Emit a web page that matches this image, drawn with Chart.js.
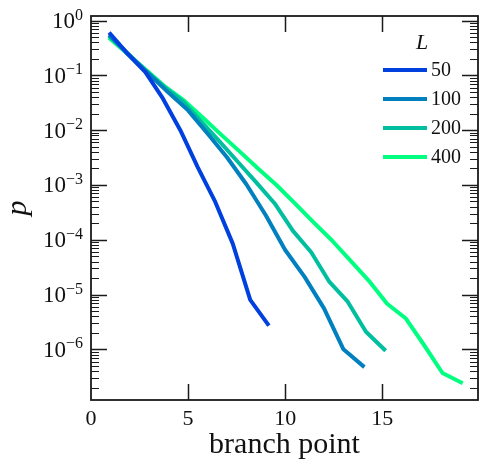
<!DOCTYPE html>
<html>
<head>
<meta charset="utf-8">
<script src="https://cdn.jsdelivr.net/npm/chart.js@4.4.1/dist/chart.umd.min.js"></script>
<style>
    html, body { margin: 0; padding: 0; background: #ffffff; }
    #chartWrap { width: 479px; height: 460px; }
</style>
</head>
<body>
<div id="chartWrap"><canvas id="branchChart" width="479" height="460"></canvas></div>
<script>
// Series data
const seriesLabels = ['50', '100', '200', '400'];
const seriesColors = ['#0040df', '#0080bf', '#00bf9f', '#00ff80'];

const x50 = [1, 1.9, 2.8, 3.7, 4.6, 5.5, 6.4, 7.3, 8.2, 9.1];
const p50 = [0.57, 0.245, 0.115, 0.038, 0.010, 0.0021, 4.9e-4, 8.5e-5, 8e-6, 2.9e-6];

const x100 = [1, 2, 3, 4, 5, 6, 7, 8, 9, 10, 11, 12, 13, 14];
const p100 = [0.52, 0.23, 0.105, 0.048, 0.023, 8.7e-3, 3.2e-3, 1.03e-3, 2.8e-4, 6.5e-5, 2.1e-5, 5.6e-6, 1.0e-6, 5e-7];

const x200 = [1, 1.94, 2.88, 3.82, 4.76, 5.7, 6.64, 7.58, 8.52, 9.46, 10.4, 11.34, 12.28, 13.22, 14.16, 15.1];
const p200 = [0.5, 0.24, 0.115, 0.06, 0.033, 0.014, 6.1e-3, 2.6e-3, 1.1e-3, 4.6e-4, 1.45e-4, 5.9e-5, 1.7e-5, 7.4e-6, 2.1e-6, 1.0e-6];

const x400 = [1, 1.95, 2.9, 3.85, 4.8, 5.75, 6.7, 7.65, 8.6, 9.55, 10.5, 11.45, 12.4, 13.35, 14.3, 15.25, 16.2, 17.15, 18.1, 19.05];
const p400 = [0.46, 0.236, 0.12, 0.061, 0.0345, 0.017, 8.3e-3, 4.1e-3, 2.0e-3, 1.0e-3, 4.6e-4, 2.1e-4, 9.8e-5, 4.2e-5, 1.8e-5, 6.8e-6, 3.7e-6, 1.2e-6, 3.7e-7, 2.5e-7];

// Axis ticks
const xTicks = [0, 5, 10, 15];
const yMajorExps = [-7, -6, -5, -4, -3, -2, -1, 0];
const xRange = [0, 19.93];
const yRange = [1.19e-7, 1.213];

const TEXT_COLOR = '#111111';
const SERIF = '"Liberation Serif", "DejaVu Serif", serif';

/**
 * Zip x and y arrays into {x, y} points
 */
function toPoints(xs, ys) {
    return xs.map((x, i) => ({ x: x, y: ys[i] }));
}

/**
 * Build the log tick list: decades plus 2..9 minors inside the range
 */
function buildLogTicks() {
    const ticks = [];
    yMajorExps.forEach(e => {
        for (let m = 1; m <= 9; m++) {
            const v = m * Math.pow(10, e);
            if (v >= yRange[0] && v <= yRange[1]) {
                ticks.push({ value: v, major: m === 1 });
            }
        }
    });
    return ticks;
}

// Frame, inward ticks on all four sides, y labels with exponents, legend
const framePlugin = {
    id: 'frameAndTicks',
    afterDatasetsDraw(chart) {
        const ctx = chart.ctx;
        const area = chart.chartArea;
        const xs = chart.scales.x;
        const ys = chart.scales.y;

        ctx.save();
        ctx.strokeStyle = '#1a1a1a';
        ctx.lineWidth = 1.5;

        // x ticks, bottom and top
        xs.ticks.forEach(t => {
            const px = Math.round(xs.getPixelForValue(t.value)) + 0.5;
            if (px <= area.left + 1) return;
            ctx.beginPath();
            ctx.moveTo(px, area.bottom); ctx.lineTo(px, area.bottom - 16);
            ctx.moveTo(px, area.top); ctx.lineTo(px, area.top + 16);
            ctx.stroke();
        });

        // y ticks, left and right
        ys.ticks.forEach(t => {
            const py = Math.round(ys.getPixelForValue(t.value)) + 0.5;
            const len = t.major ? 16 : 8;
            ctx.lineWidth = t.major ? 1.5 : 1.2;
            ctx.beginPath();
            ctx.moveTo(area.left, py); ctx.lineTo(area.left + len, py);
            ctx.moveTo(area.right, py); ctx.lineTo(area.right - len, py);
            ctx.stroke();
        });

        // axes box
        ctx.lineWidth = 1.8;
        ctx.strokeRect(area.left, area.top, area.right - area.left, area.bottom - area.top);

        // y tick labels: 10 with a raised exponent
        ctx.fillStyle = TEXT_COLOR;
        ctx.textBaseline = 'alphabetic';
        ys.ticks.filter(t => t.major).forEach(t => {
            const py = ys.getPixelForValue(t.value);
            const e = Math.round(Math.log10(t.value));
            const expText = e < 0 ? '\u2212' + Math.abs(e) : String(e);
            ctx.font = '16px ' + SERIF;
            const expW = ctx.measureText(expText).width;
            ctx.font = '23px ' + SERIF;
            const baseW = ctx.measureText('10').width;
            const right = area.left - 8;
            ctx.textAlign = 'left';
            ctx.fillText('10', right - expW - baseW, py + 7.5);
            ctx.font = '16px ' + SERIF;
            ctx.fillText(expText, right - expW, py - 1);
        });

        // legend inside the axes
        ctx.textAlign = 'center';
        ctx.textBaseline = 'middle';
        ctx.font = 'italic 22px ' + SERIF;
        ctx.fillText('L', 422, 43);
        ctx.font = '20px ' + SERIF;
        ctx.textAlign = 'left';
        chart.data.datasets.forEach((ds, i) => {
            const ly = 70 + i * 29;
            ctx.strokeStyle = ds.borderColor;
            ctx.lineWidth = 4;
            ctx.beginPath();
            ctx.moveTo(383, ly);
            ctx.lineTo(427, ly);
            ctx.stroke();
            ctx.fillText(ds.label, 431, ly + 1);
        });

        ctx.restore();
    }
};

const datasets = [
    { label: seriesLabels[0], data: toPoints(x50, p50) },
    { label: seriesLabels[1], data: toPoints(x100, p100) },
    { label: seriesLabels[2], data: toPoints(x200, p200) },
    { label: seriesLabels[3], data: toPoints(x400, p400) }
].map((ds, i) => ({
    ...ds,
    borderColor: seriesColors[i],
    backgroundColor: seriesColors[i],
    borderWidth: 4,
    pointRadius: 0,
    tension: 0,
    borderCapStyle: 'square',
    borderJoinStyle: 'round',
    fill: false
}));

const ctx = document.getElementById('branchChart').getContext('2d');
window.branchChart = new Chart(ctx, {
    type: 'line',
    data: { datasets: datasets },
    options: {
        responsive: false,
        animation: false,
        devicePixelRatio: 1,
        layout: { padding: { top: 16, right: 1, left: 0, bottom: 0 } },
        plugins: {
            legend: { display: false },
            tooltip: { enabled: false }
        },
        scales: {
            x: {
                type: 'linear',
                min: xRange[0],
                max: xRange[1],
                afterBuildTicks: scale => {
                    scale.ticks = xTicks.map(v => ({ value: v }));
                },
                afterFit: scale => { scale.height = 60; },
                grid: { display: false, drawTicks: false },
                border: { display: false },
                ticks: {
                    color: TEXT_COLOR,
                    padding: 6,
                    maxRotation: 0,
                    font: { family: SERIF, size: 22 }
                },
                title: {
                    display: true,
                    text: 'branch point',
                    color: TEXT_COLOR,
                    padding: { top: 0, bottom: 0 },
                    font: { family: SERIF, size: 30, lineHeight: 1.0 }
                }
            },
            y: {
                type: 'logarithmic',
                min: yRange[0],
                max: yRange[1],
                afterBuildTicks: scale => { scale.ticks = buildLogTicks(); },
                afterFit: scale => { scale.width = 91; },
                grid: { display: false, drawTicks: false },
                border: { display: false },
                ticks: { display: false },
                title: {
                    display: true,
                    text: 'p',
                    color: TEXT_COLOR,
                    padding: { top: 0, bottom: 0 },
                    font: { family: SERIF, size: 30, style: 'italic' }
                }
            }
        }
    },
    plugins: [framePlugin]
});
</script>
</body>
</html>
